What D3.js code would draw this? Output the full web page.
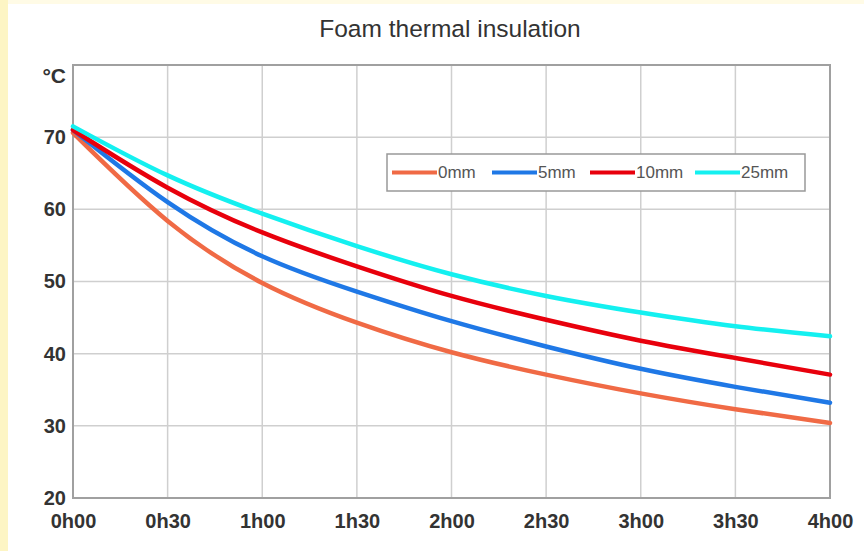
<!DOCTYPE html>
<html>
<head>
<meta charset="utf-8">
<script src="https://cdn.jsdelivr.net/npm/d3@7"></script>
<style>
  body { margin: 0; background: #fffbe6; }
  svg { display: block; font-family: "Liberation Sans", Arial, sans-serif; }
</style>
</head>
<body>
<script>
// time ticks (half hours) and temperatures in °C
var times = ["0h00", "0h30", "1h00", "1h30", "2h00", "2h30", "3h00", "3h30", "4h00"];
var series = ["0mm", "5mm", "10mm", "25mm"];
var mm0  = [70.6, 58.4, 49.8, 44.3, 40.2, 37.1, 34.5, 32.3, 30.4];
var mm5  = [71.0, 61.0, 53.5, 48.6, 44.5, 41.0, 37.9, 35.4, 33.2];
var mm10 = [71.0, 63.0, 56.8, 52.1, 48.0, 44.7, 41.8, 39.4, 37.1];
var mm25 = [71.5, 64.7, 59.4, 54.9, 51.0, 48.0, 45.7, 43.8, 42.4];
var yTicks = [20, 30, 40, 50, 60, 70];
var colors = ["#f06a45", "#1f78e6", "#e8000c", "#14f0f0"];

var width = 864, height = 551;
var margin = {left: 73, right: 34, top: 65, bottom: 53};

var svg = d3.select("body").append("svg")
    .attr("width", width)
    .attr("height", height);

// yellow frame on top/left, white card
svg.append("rect").attr("width", width).attr("height", height).attr("fill", "#fffbe6");
svg.append("rect").attr("x", 0).attr("y", 0).attr("width", 8).attr("height", height).attr("fill", "#fdf5c4");
svg.append("rect").attr("x", 8).attr("y", 4).attr("width", width - 8).attr("height", height - 4).attr("fill", "#ffffff");

var x = d3.scalePoint()
    .domain(times)
    .range([margin.left, width - margin.right]);

var y = d3.scaleLinear()
    .domain([20, 80])
    .range([height - margin.bottom, margin.top]);

// grid
svg.append("g").selectAll("line.v")
    .data(times.slice(1, -1))
    .enter().append("line")
    .attr("x1", function(d) { return x(d); })
    .attr("x2", function(d) { return x(d); })
    .attr("y1", margin.top)
    .attr("y2", height - margin.bottom)
    .attr("stroke", "#cfcfcf")
    .attr("stroke-width", 1.5);

svg.append("g").selectAll("line.h")
    .data(yTicks.slice(1))
    .enter().append("line")
    .attr("x1", margin.left)
    .attr("x2", width - margin.right)
    .attr("y1", function(d) { return y(d); })
    .attr("y2", function(d) { return y(d); })
    .attr("stroke", "#cfcfcf")
    .attr("stroke-width", 1.5);

// plot frame
svg.append("rect")
    .attr("x", margin.left)
    .attr("y", margin.top)
    .attr("width", width - margin.right - margin.left)
    .attr("height", height - margin.bottom - margin.top)
    .attr("fill", "none")
    .attr("stroke", "#a0a0a0")
    .attr("stroke-width", 2);

// axes labels
var yAxis = d3.axisLeft(y).tickValues(yTicks).tickSize(0).tickPadding(7);
var gy = svg.append("g")
    .attr("transform", "translate(" + margin.left + ",0)")
    .call(yAxis);
gy.select(".domain").remove();
gy.selectAll("text")
    .style("font-size", "20px")
    .style("font-weight", "bold")
    .attr("fill", "#333");

svg.append("text")
    .attr("x", margin.left - 7)
    .attr("y", 76)
    .attr("dy", "0.35em")
    .attr("text-anchor", "end")
    .style("font-size", "21px")
    .style("font-weight", "bold")
    .attr("fill", "#333")
    .text("°C");

var xAxis = d3.axisBottom(x).tickSize(0).tickPadding(16);
var gx = svg.append("g")
    .attr("transform", "translate(0," + (height - margin.bottom) + ")")
    .call(xAxis);
gx.select(".domain").remove();
gx.selectAll("text")
    .style("font-size", "20px")
    .style("font-weight", "bold")
    .attr("fill", "#333");

// title
svg.append("text")
    .attr("x", 450)
    .attr("y", 37)
    .attr("text-anchor", "middle")
    .style("font-size", "24.5px")
    .attr("fill", "#333")
    .text("Foam thermal insulation");

// curves
var data = [mm0, mm5, mm10, mm25];
var line = d3.line()
    .x(function(d, i) { return x(times[i]); })
    .y(function(d) { return y(d); })
    .curve(d3.curveNatural);

svg.append("g").selectAll("path")
    .data(data)
    .enter().append("path")
    .attr("d", line)
    .attr("fill", "none")
    .attr("stroke", function(d, i) { return colors[i]; })
    .attr("stroke-width", 4.5)
    .attr("stroke-linecap", "round");

// legend
var lg = svg.append("g").attr("transform", "translate(387,154)");
lg.append("rect")
    .attr("width", 418)
    .attr("height", 37)
    .attr("fill", "#fff")
    .attr("stroke", "#999")
    .attr("stroke-width", 1.5);

var legX = [5, 105, 203, 308];
var item = lg.selectAll(".legend")
    .data(series)
    .enter().append("g")
    .attr("class", "legend")
    .attr("transform", function(d, i) { return "translate(" + legX[i] + ",18.5)"; });

item.append("line")
    .attr("x1", 0).attr("x2", 45)
    .attr("stroke", function(d, i) { return colors[i]; })
    .attr("stroke-width", 4);

item.append("text")
    .attr("x", 46)
    .attr("dy", "0.35em")
    .style("font-size", "17px")
    .attr("fill", "#555")
    .text(function(d) { return d; });
</script>
</body>
</html>
